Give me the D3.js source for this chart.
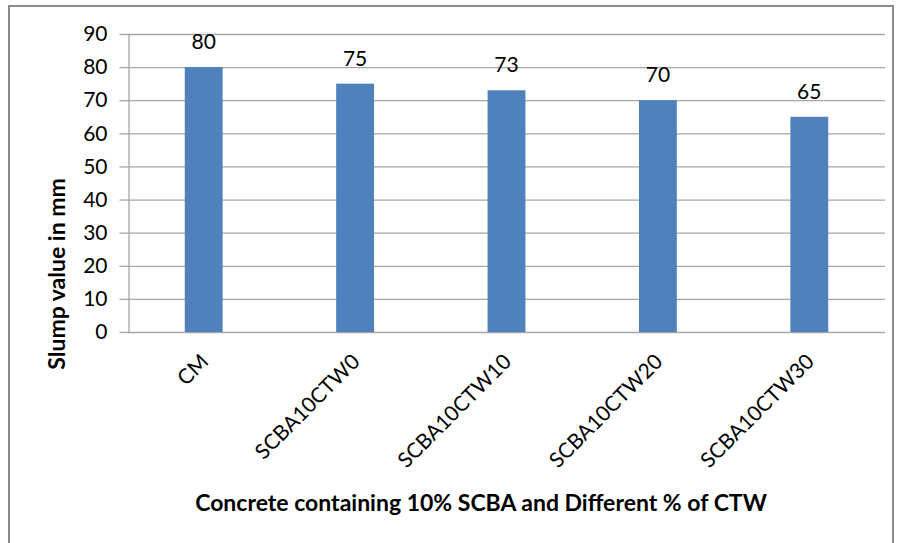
<!DOCTYPE html>
<html><head><meta charset="utf-8">
<script src="https://cdn.jsdelivr.net/npm/d3@7"></script>
<style>html,body{margin:0;padding:0;background:#fff;}svg{display:block;}</style>
</head><body>
<svg id="chart" width="899" height="543"></svg>
<script>
const categories = ["CM", "SCBA10CTW0", "SCBA10CTW10", "SCBA10CTW20", "SCBA10CTW30"];
const slumpValues = [80, 75, 73, 70, 65];
const yTicks = [0, 10, 20, 30, 40, 50, 60, 70, 80, 90];
const xTitle = "Concrete containing 10% SCBA and Different % of CTW";
const yTitle = "Slump value in mm";

const svg = d3.select("#chart");
const font = "Lato, 'Open Sans', sans-serif";
const m = {left: 128, right: 885, top: 34, bottom: 332};

svg.append("rect").attr("x", 9).attr("y", 6).attr("width", 884).attr("height", 600)
  .attr("fill", "#fff").attr("stroke", "#8c8c8c").attr("stroke-width", 2);

const x = d3.scaleBand().domain(categories).range([m.left, m.right]).paddingInner(0.75).paddingOuter(0.375);
const y = d3.scaleLinear().domain([0, 90]).range([m.bottom, m.top]);

// gridlines
svg.append("g").selectAll("line").data(yTicks).join("line")
  .attr("x1", m.left).attr("x2", m.right)
  .attr("y1", d => y(d) + 0.5).attr("y2", d => y(d) + 0.5)
  .attr("stroke", "#a6a6a6").attr("stroke-width", 1.3);

// y axis
const yAxis = svg.append("g").attr("transform", `translate(${m.left + 0.5},0)`)
  .call(d3.axisLeft(y).tickValues(yTicks).tickSize(9).tickPadding(12).tickSizeOuter(0));
yAxis.select(".domain").attr("stroke", "#a6a6a6").attr("stroke-width", 1.3);
yAxis.selectAll(".tick line").attr("stroke", "#a6a6a6").attr("stroke-width", 1.3);
yAxis.selectAll(".tick text").attr("font-family", font).attr("font-size", 21).attr("fill", "#000");

// bars
svg.append("g").selectAll("rect").data(slumpValues).join("rect")
  .attr("x", (d, i) => x(categories[i]))
  .attr("y", d => y(d))
  .attr("width", x.bandwidth())
  .attr("height", d => y(0) - y(d))
  .attr("fill", "#4f81bd");

// data labels
svg.append("g").selectAll("text").data(slumpValues).join("text")
  .attr("x", (d, i) => x(categories[i]) + x.bandwidth() / 2)
  .attr("y", d => y(d) - 18)
  .attr("text-anchor", "middle")
  .attr("font-family", font).attr("font-size", 21).attr("fill", "#000")
  .text(d => d);

// x axis labels
svg.append("g").selectAll("text").data(categories).join("text")
  .attr("transform", d => `translate(${x(d) + x.bandwidth() / 2 + 6},363) rotate(-45)`)
  .attr("text-anchor", "end")
  .attr("font-family", font).attr("font-size", 21).attr("fill", "#000")
  .text(d => d);

// titles
svg.append("text").attr("x", 481).attr("y", 511).attr("text-anchor", "middle")
  .attr("font-family", font).attr("font-weight", "bold").attr("font-size", 23).attr("fill", "#000")
  .text(xTitle);
svg.append("text").attr("transform", "translate(65,274) rotate(-90)").attr("text-anchor", "middle")
  .attr("font-family", font).attr("font-weight", "bold").attr("font-size", 23).attr("fill", "#000")
  .text(yTitle);
</script>
</body></html>
